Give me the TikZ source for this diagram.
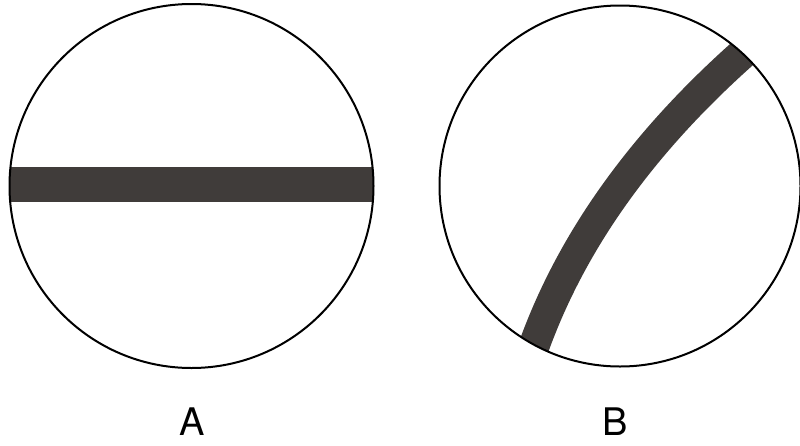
\documentclass[tikz,border=0pt]{standalone}
\usepackage{fontspec}
\setmainfont{TeX Gyre Heros}
\definecolor{bandgrey}{RGB}{64,60,58}
\begin{document}
\begin{tikzpicture}[x=1pt,y=-1pt,
  rim/.style={draw=black,line width=2pt},
  band/.style={fill=bandgrey},
  bandline/.style={draw=bandgrey,line width=31pt},
  lbl/.style={font=\fontsize{38}{40}\selectfont,inner sep=0pt}]
\useasboundingbox (0,0) rectangle (800,445);
% circle A
\begin{scope}
  \clip (191.5,186) circle (182);
  \fill[band] (0,167) rectangle (400,202);
\end{scope}
\draw[rim] (191.5,186) circle (182);
% circle B
\begin{scope}
  \clip (620,186) circle (180.5);
  \draw[bandline] (527.2,364.8) -- (534,346) .. controls (571.7,241.7) and (640.7,144.7) .. (741,55) -- (755.9,41.7);
\end{scope}
\draw[rim] (620,186) circle (180.5);
\node[lbl] (la) at (192,422) {A};
\node[lbl] (lb) at (615,422) {B};
\end{tikzpicture}
\end{document}
